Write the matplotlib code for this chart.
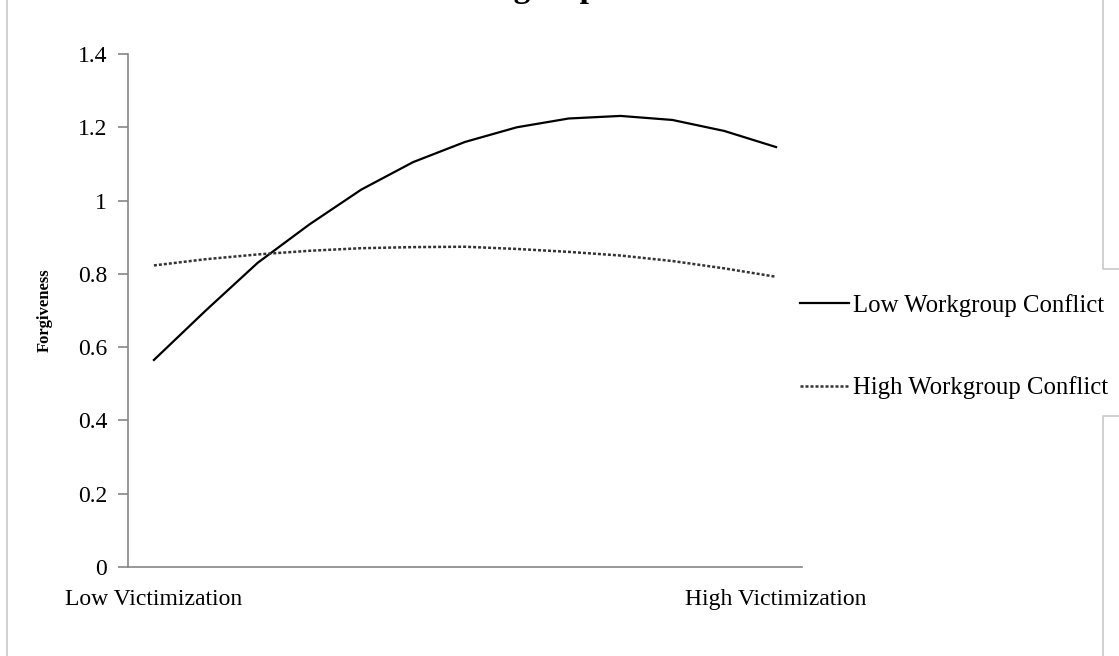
import matplotlib.pyplot as plt
import numpy as np
from matplotlib.lines import Line2D

plt.rcParams['font.family'] = ['Liberation Serif', 'DejaVu Serif']

# 13 victimization levels, only the ends are labelled
cat_labels = ['Low Victimization'] + [''] * 11 + ['High Victimization']
low_conflict = [0.565, 0.70, 0.83, 0.935, 1.03, 1.105, 1.16, 1.20, 1.224,
                1.231, 1.22, 1.19, 1.146]
high_conflict = [0.823, 0.84, 0.853, 0.863, 0.870, 0.873, 0.874, 0.868,
                 0.860, 0.850, 0.835, 0.815, 0.792]
yticks = [0, 0.2, 0.4, 0.6, 0.8, 1, 1.2, 1.4]
ytick_labels = ['0', '0.2', '0.4', '0.6', '0.8', '1', '1.2', '1.4']

W, H = 1119, 656
fig = plt.figure(figsize=(W / 100, H / 100), dpi=100)
ax = fig.add_axes([128 / W, 1 - 567 / H, (802 - 128) / W, (567 - 54) / H])

x = np.arange(len(cat_labels))
ax.plot(x, low_conflict, color='black', lw=1.6, label='Low Workgroup Conflict')
ax.plot(x, high_conflict, color='#333333', lw=1.8, linestyle=(0, (1.2, 0.8)),
        label='High Workgroup Conflict')

ax.set_xlim(-0.5, len(cat_labels) - 0.5)
ax.set_ylim(0, 1.4)
ax.set_yticks(yticks)
ax.set_yticklabels(ytick_labels, fontsize=17)
ax.set_xticks(x)
ax.set_xticklabels(cat_labels, fontsize=17)
ax.tick_params(axis='x', length=0, pad=16)
ax.tick_params(axis='y', length=7, width=1.2, color='#868686', pad=8)
for s in ['top', 'right']:
    ax.spines[s].set_visible(False)
for s in ['left', 'bottom']:
    ax.spines[s].set_color('#868686')
    ax.spines[s].set_linewidth(1.2)

ax.set_ylabel('Forgiveness', fontsize=12, fontweight='bold', labelpad=18)

leg = ax.legend(loc='upper left', bbox_to_anchor=(800 / W, 1 - 294 / H),
                bbox_transform=fig.transFigure, frameon=False, fontsize=17.8,
                handlelength=2.0, handletextpad=0.15, labelspacing=2.4,
                borderaxespad=0, borderpad=0)

# partly visible title above the crop
fig.text(577 / W, 1 + 3 / H, 'Workgroup Conflict', ha='center', va='baseline',
         fontsize=24, fontweight='bold')

# neighbouring frame edges from the page
gray = '#c8c8c8'
fig.add_artist(Line2D([7 / W, 7 / W], [0, 1], color=gray, lw=1.2))
fig.add_artist(Line2D([1103 / W, 1103 / W, 1], [1, 1 - 269 / H, 1 - 269 / H], color=gray, lw=1.2))
fig.add_artist(Line2D([1103 / W, 1103 / W, 1], [0, 1 - 416 / H, 1 - 416 / H], color=gray, lw=1.2))

fig.savefig('out.png', dpi=100)
